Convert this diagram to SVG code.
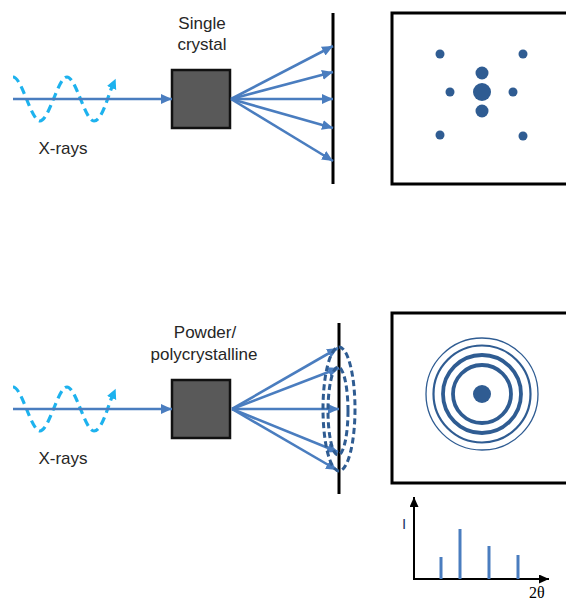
<svg xmlns="http://www.w3.org/2000/svg" width="566" height="601" viewBox="0 0 566 601">
  <style>
    .lbl { font-family: "Liberation Sans", Arial, sans-serif; font-size: 17px; fill: #262626; }
    .ray { stroke: #4A7DBF; stroke-width: 2.6; fill: none; marker-end: url(#blueHead); }
    .beam { stroke: #4A7DBF; stroke-width: 2.6; fill: none; marker-end: url(#blueHead); }
    .wave { stroke: #1DB2EE; stroke-width: 3.2; fill: none; stroke-dasharray: 8 5; marker-end: url(#cyanHead); }
    .crystal { fill: #595959; stroke: #111; stroke-width: 2.5; }
    .detector { stroke: #000; stroke-width: 3; }
    .frame { fill: #fff; stroke: #000; stroke-width: 3; }
    .spot { fill: #2F5C92; }
    .ring { fill: none; stroke: #2F5C92; }
    .cone { fill: none; stroke: #2F5C92; stroke-width: 3; stroke-dasharray: 6 3.5; }
    .axis { stroke: #000; stroke-width: 2; fill: none; marker-end: url(#blackHead); }
    .bar { stroke: #4A7DBF; stroke-width: 3; }
  </style>
  <defs>
    <marker id="blueHead" markerUnits="userSpaceOnUse" markerWidth="12" markerHeight="11" refX="11" refY="5" orient="auto">
      <path d="M0,0 L11,5 L0,10 z" fill="#4A7DBF"/>
    </marker>
    <marker id="cyanHead" markerUnits="userSpaceOnUse" markerWidth="11" markerHeight="11" refX="1" refY="5" orient="auto">
      <path d="M0,0 L10,5 L0,10 z" fill="#1DB2EE"/>
    </marker>
    <marker id="blackHead" markerUnits="userSpaceOnUse" markerWidth="11" markerHeight="10" refX="10" refY="4.5" orient="auto">
      <path d="M0,0 L10,4.5 L0,9 z" fill="#000"/>
    </marker>
  </defs>

  <rect width="566" height="601" fill="#fff"/>

  <!-- ===== Single crystal ===== -->
  <g id="xray-source-top">
    <path class="wave" d="M13,77 C22,77 31,121 40,121 S58,77 67,77 S85,121 94,121 C102,121 108,96 112,87"/>
    <text class="lbl" x="63" y="154" text-anchor="middle">X-rays</text>
  </g>

  <g id="crystal-top">
    <rect class="crystal" x="172" y="70" width="58" height="58"/>
    <text class="lbl" x="202" y="29" text-anchor="middle">Single</text>
    <text class="lbl" x="202" y="50" text-anchor="middle">crystal</text>
  </g>

  <g id="detector-top">
    <line class="detector" x1="333" y1="13" x2="333" y2="184"/>
  </g>

  <g id="pattern-top">
    <rect class="frame" x="392" y="13" width="190" height="171"/>
    <circle class="spot" cx="440" cy="54" r="4.5"/>
    <circle class="spot" cx="523" cy="54" r="4.5"/>
    <circle class="spot" cx="482" cy="73" r="6.5"/>
    <circle class="spot" cx="482" cy="92" r="9"/>
    <circle class="spot" cx="482" cy="111" r="6.5"/>
    <circle class="spot" cx="450" cy="92" r="4.5"/>
    <circle class="spot" cx="513" cy="92" r="4.5"/>
    <circle class="spot" cx="440" cy="135" r="4.5"/>
    <circle class="spot" cx="523" cy="136" r="4.5"/>
  </g>

  <!-- ===== Powder / polycrystalline ===== -->
  <g id="xray-source-bottom">
    <path class="wave" d="M13,387 C22,387 31,431 40,431 S58,387 67,387 S85,431 94,431 C102,431 108,406 112,397"/>
    <text class="lbl" x="63" y="464" text-anchor="middle">X-rays</text>
  </g>

  <g id="crystal-bottom">
    <rect class="crystal" x="172" y="380" width="58" height="58"/>
    <text class="lbl" x="205" y="338" text-anchor="middle">Powder/</text>
    <text class="lbl" x="204" y="360" text-anchor="middle">polycrystalline</text>
  </g>

  <g id="detector-bottom">
    <line class="detector" x1="339" y1="323" x2="339" y2="494"/>
  </g>

  <g id="pattern-bottom">
    <rect class="frame" x="392" y="313" width="190" height="170"/>
    <circle class="ring" cx="482" cy="394" r="56" stroke-width="1.3"/>
    <circle class="ring" cx="482" cy="394" r="48.5" stroke-width="2.2"/>
    <circle class="ring" cx="482" cy="394" r="39" stroke-width="3.8"/>
    <circle class="ring" cx="482" cy="394" r="29" stroke-width="3.8"/>
    <circle class="spot" cx="482" cy="394" r="9"/>
  </g>

  <g id="intensity-plot">
    <line class="axis" x1="414" y1="580" x2="414" y2="497"/>
    <line class="axis" x1="413" y1="579" x2="549" y2="579"/>
    <line class="bar" x1="441" y1="557" x2="441" y2="579"/>
    <line class="bar" x1="460" y1="529" x2="460" y2="579"/>
    <line class="bar" x1="489" y1="546" x2="489" y2="579"/>
    <line class="bar" x1="518" y1="555" x2="518" y2="579"/>
    <text x="402" y="529" font-family="Liberation Sans, Arial, sans-serif" font-size="15" fill="#1F3864">I</text>
    <text x="529" y="598" font-family="Liberation Serif, 'Times New Roman', serif" font-size="16" fill="#000">2θ</text>
  </g>

  <!-- beams and diffracted rays -->
  <g id="connectors">
    <line class="beam" x1="13" y1="99" x2="172" y2="99"/>
    <line class="ray" x1="231" y1="99" x2="333" y2="46"/>
    <line class="ray" x1="231" y1="99" x2="333" y2="72"/>
    <line class="ray" x1="231" y1="99" x2="333" y2="99"/>
    <line class="ray" x1="231" y1="99" x2="333" y2="128"/>
    <line class="ray" x1="231" y1="99" x2="333" y2="161"/>

    <line class="beam" x1="13" y1="409" x2="172" y2="409"/>
    <line class="ray" x1="232" y1="409" x2="338" y2="348"/>
    <line class="ray" x1="232" y1="409" x2="339" y2="368"/>
    <line class="ray" x1="232" y1="409" x2="339" y2="409"/>
    <line class="ray" x1="232" y1="409" x2="338" y2="452"/>
    <line class="ray" x1="232" y1="409" x2="337" y2="470"/>

    <ellipse class="cone" cx="339" cy="409" rx="16" ry="62"/>
    <ellipse class="cone" cx="338" cy="411" rx="10" ry="44"/>
  </g>
</svg>
